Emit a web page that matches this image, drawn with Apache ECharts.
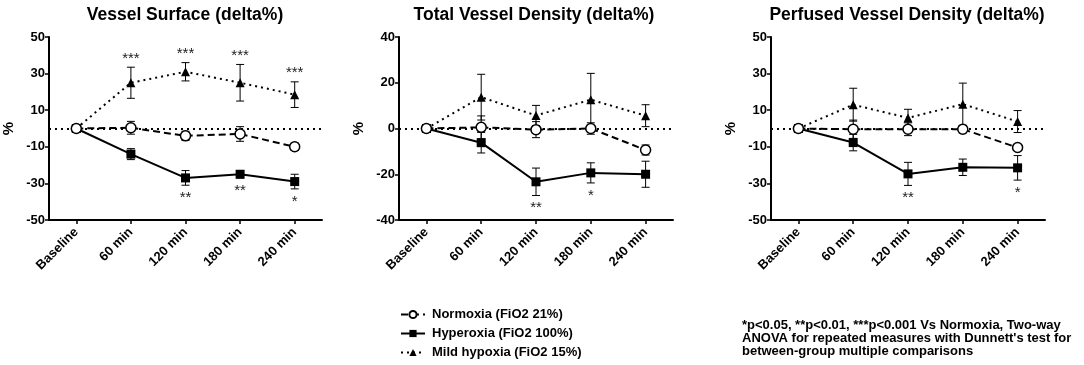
<!DOCTYPE html>
<html>
<head>
<meta charset="utf-8">
<script src="https://cdn.jsdelivr.net/npm/echarts@6/dist/echarts.min.js"></script>
<style>
    html, body { margin: 0; padding: 0; background: #fff; }
    #main { width: 1084px; height: 365px; }
</style>
</head>
<body>
<div id="main"></div>
<script>
    var categories = ['Baseline', '60 min', '120 min', '180 min', '240 min'];
    var groupNames = ['Normoxia (FiO2 21%)', 'Hyperoxia (FiO2 100%)', 'Mild hypoxia (FiO2 15%)'];
    var panelTitles = ['Vessel Surface (delta%)', 'Total Vessel Density (delta%)', 'Perfused Vessel Density (delta%)'];

    // Vessel Surface
    var vsNorm = [0, 0.4, -4, -3, -10];
    var vsNormErr = [0, 3.5, 2.5, 4, 2];
    var vsHyper = [0, -14, -27, -25, -29];
    var vsHyperErr = [0, 3, 4, 2, 4];
    var vsHypox = [0, 25, 31, 25, 18.5];
    var vsHypoxErr = [0, 8.5, 5, 10, 7];
    var vsStarsUp = ['', '***', '***', '***', '***'];
    var vsStarsDown = ['', '', '**', '**', '*'];

    // Total Vessel Density
    var tvdNorm = [0, 0.5, -0.5, 0, -9.4];
    var tvdNormErr = [0, 5, 3.5, 2.5, 2.2];
    var tvdHyper = [0, -6.2, -23.3, -19.4, -20];
    var tvdHyperErr = [0, 4.5, 6, 4.4, 5.7];
    var tvdHypox = [0, 13.7, 5.7, 12.6, 5.6];
    var tvdHypoxErr = [0, 10, 4.4, 11.5, 4.8];
    var tvdStarsUp = ['', '', '', '', ''];
    var tvdStarsDown = ['', '', '**', '*', ''];

    // Perfused Vessel Density
    var pvdNorm = [0, -0.4, -0.4, -0.4, -10.4];
    var pvdNormErr = [0, 5, 3.5, 2, 1];
    var pvdHyper = [0, -7.7, -24.8, -21.2, -21.5];
    var pvdHyperErr = [0, 4.5, 6.3, 4.5, 6.7];
    var pvdHypox = [0, 13, 5.8, 13.3, 3.8];
    var pvdHypoxErr = [0, 9, 4.7, 11.5, 6];
    var pvdStarsUp = ['', '', '', '', ''];
    var pvdStarsDown = ['', '', '**', '', '*'];

    var yMins = [-50, -40, -50];
    var yMaxs = [50, 40, 50];
    var yInterval = 20;

    var panels = [
        {norm: vsNorm, normErr: vsNormErr, hyper: vsHyper, hyperErr: vsHyperErr, hypox: vsHypox, hypoxErr: vsHypoxErr, up: vsStarsUp, down: vsStarsDown},
        {norm: tvdNorm, normErr: tvdNormErr, hyper: tvdHyper, hyperErr: tvdHyperErr, hypox: tvdHypox, hypoxErr: tvdHypoxErr, up: tvdStarsUp, down: tvdStarsDown},
        {norm: pvdNorm, normErr: pvdNormErr, hyper: pvdHyper, hyperErr: pvdHyperErr, hypox: pvdHypox, hypoxErr: pvdHypoxErr, up: pvdStarsUp, down: pvdStarsDown}
    ];

    var FONT = '"Liberation Sans", Arial, sans-serif';
    var chart = echarts.init(document.getElementById('main'));

    var gridLefts = [48, 399, 771];
    var gridWidth = 274;
    var titleCenters = [180, 529, 902];

    function errSeries(gi, means, errs) {
        var data = [];
        means.forEach(function (m, i) {
            if (errs[i] > 0) data.push([i, m - errs[i], m + errs[i]]);
        });
        return {
            type: 'custom',
            xAxisIndex: gi, yAxisIndex: gi,
            silent: true, z: 3,
            data: data,
            renderItem: function (params, api) {
                var lo = api.coord([api.value(0), api.value(1)]);
                var hi = api.coord([api.value(0), api.value(2)]);
                var w = 4;
                var st = {stroke: '#000', lineWidth: 1};
                return {
                    type: 'group',
                    children: [
                        {type: 'line', shape: {x1: lo[0], y1: lo[1], x2: hi[0], y2: hi[1]}, style: st},
                        {type: 'line', shape: {x1: lo[0] - w, y1: lo[1], x2: lo[0] + w, y2: lo[1]}, style: st},
                        {type: 'line', shape: {x1: hi[0] - w, y1: hi[1], x2: hi[0] + w, y2: hi[1]}, style: st}
                    ]
                };
            }
        };
    }

    function starSeries(gi, means, errs, stars, up) {
        var data = [];
        var labels = [];
        means.forEach(function (m, i) {
            if (stars[i]) {
                data.push([i, up ? m + errs[i] : m - errs[i]]);
                labels.push(stars[i]);
            }
        });
        return {
            type: 'custom',
            xAxisIndex: gi, yAxisIndex: gi,
            silent: true, z: 4,
            data: data,
            renderItem: function (params, api) {
                var p = api.coord([api.value(0), api.value(1)]);
                return {
                    type: 'text',
                    style: {
                        text: labels[params.dataIndex],
                        x: p[0], y: up ? p[1] - 1 : p[1] + 5,
                        textAlign: 'center',
                        textVerticalAlign: up ? 'bottom' : 'top',
                        font: '15px ' + FONT,
                        fill: '#222'
                    }
                };
            }
        };
    }

    var grids = [], xAxes = [], yAxes = [], series = [], titles = [];
    panels.forEach(function (p, gi) {
        grids.push({left: gridLefts[gi], width: gridWidth, top: 37, bottom: 145});
        xAxes.push({
            type: 'category', gridIndex: gi, data: categories, boundaryGap: true,
            axisLine: {onZero: false, lineStyle: {color: '#000', width: 2}},
            axisTick: {show: true, alignWithLabel: true, length: 4, lineStyle: {color: '#000', width: 1.5}},
            axisLabel: {rotate: 45, color: '#000', fontWeight: 'bold', fontSize: 13, fontFamily: FONT, margin: 10}
        });
        yAxes.push({
            type: 'value', gridIndex: gi, min: yMins[gi], max: yMaxs[gi], interval: yInterval,
            name: '%', nameLocation: 'middle', nameGap: 33, nameRotate: 90,
            nameTextStyle: {color: '#000', fontWeight: 'bold', fontSize: 15, fontFamily: FONT},
            splitLine: {show: false},
            axisLine: {show: true, lineStyle: {color: '#000', width: 2}},
            axisTick: {show: true, length: 4, lineStyle: {color: '#000', width: 1.5}},
            axisLabel: {color: '#000', fontWeight: 'bold', fontSize: 13, fontFamily: FONT, margin: 4}
        });
        titles.push({
            text: panelTitles[gi], left: titleCenters[gi], top: 1, textAlign: 'center',
            textStyle: {color: '#000', fontWeight: 'bold', fontSize: 17.5, fontFamily: FONT}
        });

        series.push({
            name: groupNames[0], type: 'line', xAxisIndex: gi, yAxisIndex: gi, data: p.norm,
            symbol: 'circle', symbolSize: 10, z: 5,
            itemStyle: {color: '#fff', borderColor: '#000', borderWidth: 1.5},
            lineStyle: {color: '#000', width: 2, type: [7, 4]},
            markLine: {
                silent: true, symbol: 'none', label: {show: false},
                lineStyle: {color: '#000', width: 2, type: [2, 4]},
                data: [{yAxis: 0}]
            }
        });
        series.push({
            name: groupNames[1], type: 'line', xAxisIndex: gi, yAxisIndex: gi, data: p.hyper,
            symbol: 'rect', symbolSize: 9, z: 4,
            itemStyle: {color: '#000'},
            lineStyle: {color: '#000', width: 2, type: 'solid'}
        });
        series.push({
            name: groupNames[2], type: 'line', xAxisIndex: gi, yAxisIndex: gi, data: p.hypox,
            symbol: 'triangle', symbolSize: 9, z: 4,
            itemStyle: {color: '#000'},
            lineStyle: {color: '#000', width: 2, type: [2, 4]}
        });
        series.push(errSeries(gi, p.norm, p.normErr));
        series.push(errSeries(gi, p.hyper, p.hyperErr));
        series.push(errSeries(gi, p.hypox, p.hypoxErr));
        series.push(starSeries(gi, p.hypox, p.hypoxErr, p.up, true));
        series.push(starSeries(gi, p.hyper, p.hyperErr, p.down, false));
    });

    titles.push({
        text: "*p<0.05, **p<0.01, ***p<0.001 Vs Normoxia, Two-way\nANOVA for repeated measures with Dunnett's test for\nbetween-group multiple comparisons",
        left: 737, top: 314,
        textStyle: {color: '#000', fontWeight: 'bold', fontSize: 13, lineHeight: 13, fontFamily: FONT}
    });

    var option = {
        animation: false,
        title: titles,
        grid: grids,
        xAxis: xAxes,
        yAxis: yAxes,
        legend: {
            data: groupNames,
            orient: 'vertical', left: 395, top: 303,
            itemWidth: 24, itemHeight: 9, itemGap: 6,
            textStyle: {color: '#000', fontWeight: 'bold', fontSize: 13, fontFamily: FONT, padding: [0, 0, 0, 2]}
        },
        series: series
    };

    option && chart.setOption(option);
</script>
</body>
</html>
